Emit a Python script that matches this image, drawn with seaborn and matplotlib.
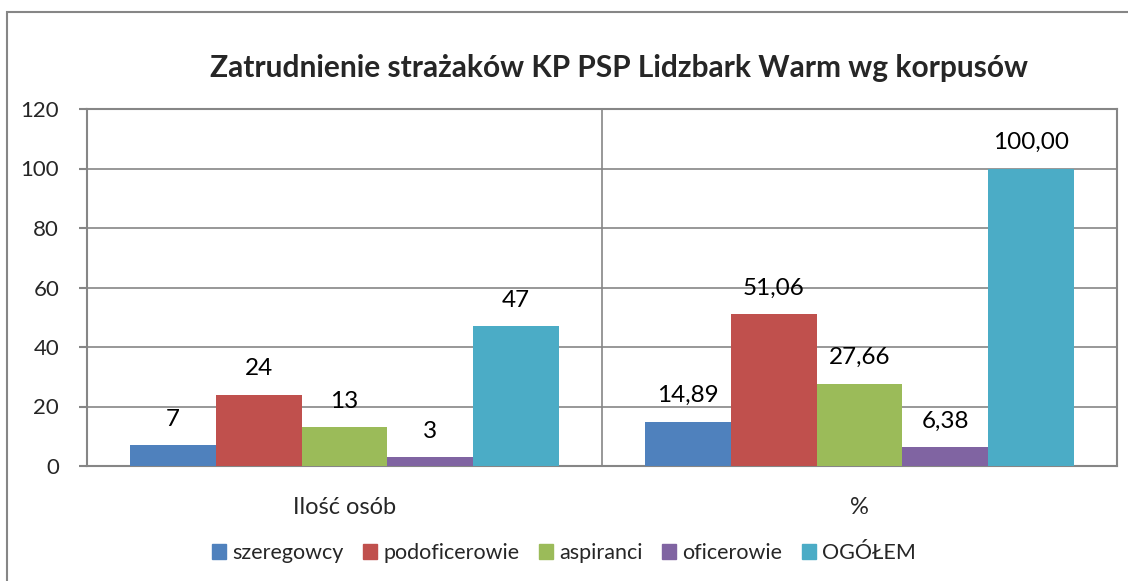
import pandas as pd
import matplotlib.pyplot as plt
import matplotlib.patches as mpatches
import seaborn as sns

# dane
kategorie = ["Ilość osób", "%"]
serie = ["szeregowcy", "podoficerowie", "aspiranci", "oficerowie", "OGÓŁEM"]
ilosc_osob = [7, 24, 13, 3, 47]
procent = [14.89, 51.06, 27.66, 6.38, 100.00]
kolory = ["#4F81BD", "#C0504D", "#9BBB59", "#8064A2", "#4BACC6"]
y_ticks = [0, 20, 40, 60, 80, 100, 120]

df = pd.DataFrame({
    "kategoria": [kategorie[0]] * len(serie) + [kategorie[1]] * len(serie),
    "seria": serie + serie,
    "wartosc": ilosc_osob + procent,
})

sns.set_style("white")
plt.rcParams['font.family'] = ['Lato', 'DejaVu Sans']
szary = "#868686"

fig = plt.figure(figsize=(11.28, 5.81), dpi=100)
ax = fig.add_axes([87 / 1128, 1 - 466 / 581, 1030 / 1128, 357 / 581])

sns.barplot(
    data=df, x="kategoria", y="wartosc", hue="seria",
    order=kategorie, hue_order=serie, palette=kolory,
    width=5 / 6, saturation=1, legend=False, ax=ax, zorder=3,
    linewidth=0, edgecolor="none"
)

# etykiety danych
for kont in ax.containers:
    for p in kont:
        h = p.get_height()
        xs = p.get_x() + p.get_width() / 2
        if xs < 0.5:
            txt = f"{h:.0f}"
        else:
            txt = f"{h:.2f}".replace(".", ",")
        ax.annotate(txt, (xs, h), xytext=(0, 14), textcoords="offset points",
                    ha="center", va="baseline", fontsize=17.5, color="black")

ax.set_xlim(-0.5, 1.5)
ax.set_ylim(0, 120)
ax.set_yticks(y_ticks)
ax.set_xlabel("")
ax.set_ylabel("")

ax.set_xticks([-0.5, 0.5, 1.5], minor=True)
ax.tick_params(axis="x", which="major", length=0, pad=22, labelsize=17)
ax.tick_params(axis="x", which="minor", length=6, width=1.5, color=szary, direction="out")
ax.tick_params(axis="y", length=6, width=1.5, color=szary, direction="out", left=True,
               labelsize=16, pad=14)
ax.grid(axis="y", color=szary, linewidth=1.2, zorder=0)
ax.grid(axis="x", which="minor", color=szary, linewidth=1.2, zorder=0)
ax.grid(axis="x", which="major", visible=False)
for s in ax.spines.values():
    s.set_color(szary)
    s.set_linewidth(1.5)

fig.text(619 / 1128, 1 - 68 / 581, "Zatrudnienie strażaków KP PSP Lidzbark Warm wg korpusów",
         ha="center", va="center", fontsize=21.5, fontweight="bold")

uchwyty = [mpatches.Patch(color=c, label=s) for c, s in zip(kolory, serie)]
fig.legend(handles=uchwyty, loc="center", bbox_to_anchor=(0.5, 1 - 553 / 581), ncol=5,
           frameon=False, fontsize=15.5, handlelength=0.65, handleheight=0.65,
           handletextpad=0.3, columnspacing=0.9)

# ramka wykresu
ramka = mpatches.Rectangle((7 / 1128, -0.1), 1.2, 1 - 12 / 581 + 0.1, transform=fig.transFigure,
                           fill=False, edgecolor=szary, linewidth=1.5, clip_on=False)
fig.patches.append(ramka)

plt.savefig("out.png", dpi=100)
